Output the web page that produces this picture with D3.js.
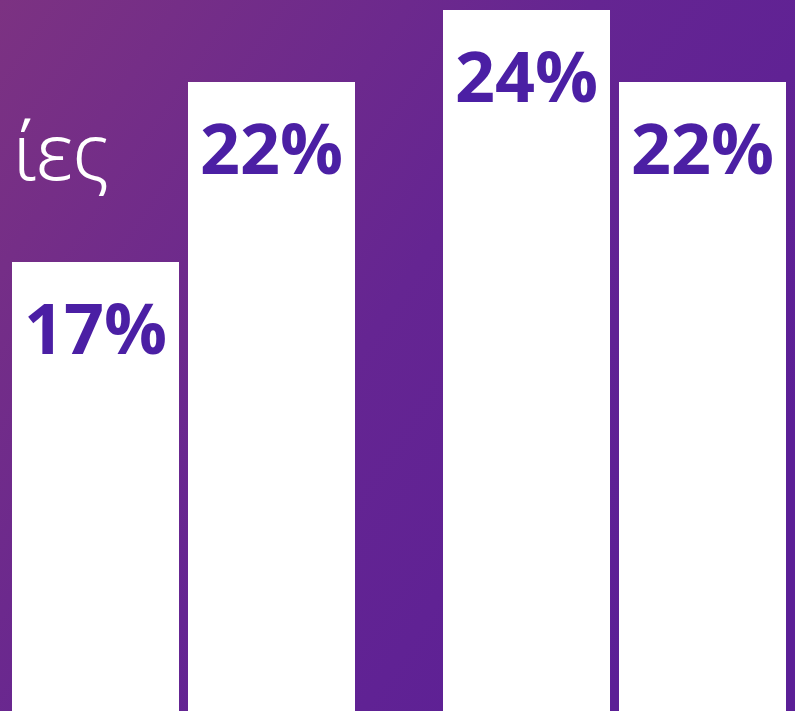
<!DOCTYPE html>
<html>
<head>
<meta charset="utf-8">
<script src="https://cdn.jsdelivr.net/npm/d3@7"></script>
<style>
  html, body { margin: 0; padding: 0; overflow: hidden; }
</style>
</head>
<body>
<script>
// data
var groups = ['A', 'B'];
var series = ['s1', 's2'];
var values = [17, 22, 24, 22];        // percent, in group/series order
var labels = ['17%', '22%', '24%', '22%'];
var titleText = 'ίες';

var width = 795, height = 711;

var svg = d3.select('body')
  .append('svg')
  .attr('width', width)
  .attr('height', height)

// purple background
var defs = svg.append('defs')
var grad = defs.append('linearGradient')
  .attr('id', 'bg')
  .attr('x1', 0).attr('y1', 0)
  .attr('x2', 1).attr('y2', 0.6)
grad.append('stop').attr('offset', '0%').attr('stop-color', '#7c3282')
grad.append('stop').attr('offset', '55%').attr('stop-color', '#652592')
grad.append('stop').attr('offset', '100%').attr('stop-color', '#5b1f96')

svg.append('rect')
  .attr('width', width)
  .attr('height', height)
  .attr('fill', 'url(#bg)')

// scales
var x0 = d3.scaleBand()
  .domain(groups)
  .range([-32, 830])
  .paddingInner(88 / 431)
  .paddingOuter(44 / 431)

var x1 = d3.scaleBand()
  .domain(series)
  .range([0, x0.bandwidth()])
  .paddingInner(9 / 176)

var y = d3.scaleLinear()
  .domain([17, 24])
  .range([262, 10])

var data = values.map(function(v, i) {
  return {
    group: groups[Math.floor(i / series.length)],
    key: series[i % series.length],
    value: v,
    label: labels[i]
  };
});

// title fragment (cropped on the left)
svg.append('text')
  .attr('x', 109)
  .attr('y', 180)
  .attr('text-anchor', 'end')
  .attr('font-family', 'Noto Sans')
  .attr('font-weight', 300)
  .attr('font-size', '80px')
  .attr('fill', '#ffffff')
  .text(titleText)

var bars = svg.append('g')
  .selectAll('g')
  .data(data)
  .enter()
  .append('g')

bars.append('rect')
  .attr('x', d => x0(d.group) + x1(d.key))
  .attr('y', d => y(d.value))
  .attr('width', x1.bandwidth())
  .attr('height', d => height - y(d.value) + 2)
  .attr('fill', '#ffffff')

bars.append('text')
  .attr('x', d => x0(d.group) + x1(d.key) + x1.bandwidth() / 2)
  .attr('y', d => y(d.value) + 92)
  .attr('text-anchor', 'middle')
  .attr('font-family', 'Open Sans')
  .attr('font-weight', 700)
  .attr('font-size', '70px')
  .attr('fill', '#4b1fa4')
  .text(d => d.label)
</script>
</body>
</html>
